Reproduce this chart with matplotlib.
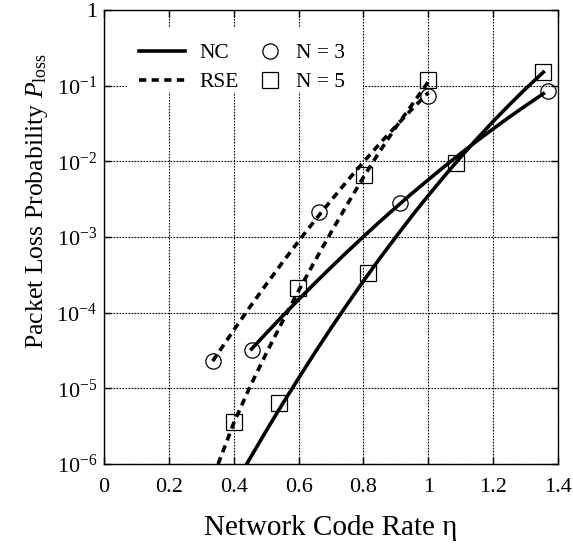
#!/usr/bin/env python3
"""Packet loss probability vs. network code rate, NC vs RSE for N = 3 and N = 5."""

import matplotlib
matplotlib.use('Agg')
import matplotlib.pyplot as plt
from matplotlib.lines import Line2D
from matplotlib.patches import Rectangle
from matplotlib.ticker import FixedLocator, FixedFormatter, NullLocator

plt.rcParams['font.family'] = ['Liberation Serif', 'DejaVu Serif']
plt.rcParams['mathtext.fontset'] = 'custom'
plt.rcParams['mathtext.rm'] = 'Liberation Serif'
plt.rcParams['mathtext.it'] = 'Liberation Serif:italic'

# analytical curves (lines)
rse3_x = [0.335, 0.40, 0.45, 0.50, 0.55, 0.60, 0.65, 0.70, 0.75, 0.80, 0.85, 0.90, 0.95, 1.0]
rse3_y = [2.29e-5, 5.87e-5, 1.19e-4, 2.36e-4, 4.59e-4, 8.79e-4, 1.65e-3, 3.04e-3,
          5.50e-3, 9.77e-3, 1.71e-2, 2.92e-2, 4.91e-2, 8.09e-2]
rse5_x = [0.352, 0.40, 0.45, 0.50, 0.55, 0.60, 0.65, 0.70, 0.75, 0.80, 0.85, 0.90, 0.95, 1.0]
rse5_y = [1e-6, 3.47e-6, 1.05e-5, 2.88e-5, 7.59e-5, 1.95e-4, 4.79e-4, 1.15e-3,
          2.69e-3, 6.17e-3, 1.35e-2, 2.82e-2, 5.62e-2, 0.112]
nc3_x = [0.455, 0.50, 0.55, 0.60, 0.65, 0.70, 0.75, 0.80, 0.85, 0.90, 0.95, 1.0,
         1.05, 1.10, 1.15, 1.20, 1.25, 1.30, 1.355]
nc3_y = [3.31e-5, 5.33e-5, 8.97e-5, 1.49e-4, 2.45e-4, 3.97e-4, 6.38e-4, 1.01e-3,
         1.59e-3, 2.46e-3, 3.78e-3, 5.71e-3, 8.57e-3, 1.27e-2, 1.86e-2, 2.69e-2,
         3.85e-2, 5.43e-2, 7.85e-2]
nc5_x = [0.44, 0.50, 0.55, 0.60, 0.65, 0.70, 0.75, 0.80, 0.85, 0.90, 0.95, 1.0,
         1.05, 1.10, 1.15, 1.20, 1.25, 1.30, 1.355]
nc5_y = [1.0e-6, 2.74e-6, 6.18e-6, 1.36e-5, 2.95e-5, 6.25e-5, 1.29e-4, 2.62e-4,
         5.19e-4, 1.00e-3, 1.91e-3, 3.53e-3, 6.41e-3, 1.14e-2, 1.98e-2, 3.37e-2,
         5.58e-2, 9.10e-2, 0.151]

# simulation points (markers)
rse3_px = [0.335, 0.664, 1.0]
rse3_py = [2.3e-5, 2.15e-3, 7.2e-2]
rse5_px = [0.401, 0.598, 0.802, 1.0]
rse5_py = [3.6e-6, 2.1e-4, 6.6e-3, 0.119]
nc3_px = [0.455, 0.913, 1.368]
nc3_py = [3.2e-5, 2.8e-3, 8.6e-2]
nc5_px = [0.541, 0.813, 1.085, 1.355]
nc5_py = [6.4e-6, 3.3e-4, 9.4e-3, 0.153]

x_ticks = [0, 0.2, 0.4, 0.6, 0.8, 1, 1.2, 1.4]
x_labels = ['0', '0.2', '0.4', '0.6', '0.8', '1', '1.2', '1.4']
y_ticks = [1e-6, 1e-5, 1e-4, 1e-3, 1e-2, 1e-1, 1]
y_labels = [r'$10^{-6}$', r'$10^{-5}$', r'$10^{-4}$', r'$10^{-3}$',
            r'$10^{-2}$', r'$10^{-1}$', '1']

fig = plt.figure(figsize=(5.73, 5.44), dpi=100)
ax = fig.add_axes([0.1815, 0.147, 0.7923, 0.8346])

dash = (0, (2.0, 1.5))
lw = 2.6
ax.plot(rse3_x, rse3_y, color='black', lw=lw, linestyle=dash)
ax.plot(rse5_x, rse5_y, color='black', lw=lw, linestyle=dash)
ax.plot(nc3_x, nc3_y, color='black', lw=lw)
ax.plot(nc5_x, nc5_y, color='black', lw=lw)

mk = dict(linestyle='none', markersize=11, markerfacecolor='none',
          markeredgecolor='black', markeredgewidth=0.9)
ax.plot(rse3_px, rse3_py, marker='o', **mk)
ax.plot(nc3_px, nc3_py, marker='o', **mk)
ax.plot(rse5_px, rse5_py, marker='s', **mk)
ax.plot(nc5_px, nc5_py, marker='s', **mk)

ax.set_yscale('log')
ax.set_xlim(0, 1.4)
ax.set_ylim(1e-6, 1)
ax.xaxis.set_major_locator(FixedLocator(x_ticks))
ax.xaxis.set_major_formatter(FixedFormatter(x_labels))
ax.yaxis.set_major_locator(FixedLocator(y_ticks))
ax.yaxis.set_major_formatter(FixedFormatter(y_labels))
ax.xaxis.set_minor_locator(NullLocator())
ax.yaxis.set_minor_locator(NullLocator())

ax.tick_params(which='major', direction='in', top=True, right=True,
               length=5, width=1, labelsize=16)
ax.tick_params(axis='x', pad=10)
ax.tick_params(axis='y', pad=5)
for s in ax.spines.values():
    s.set_linewidth(1.0)

ax.grid(True, color='black', linestyle=(0, (1.5, 1.2)), linewidth=0.8)
ax.set_axisbelow(True)

ax.set_xlabel('Network Code Rate η', fontsize=21, labelpad=13)
ax.set_ylabel(r'Packet Loss Probability $P_{\mathrm{loss}}$', fontsize=18.5)
ax.yaxis.set_label_coords(-0.12, 0.58)

# white patch behind the legend block, hides the grid there
ax.add_patch(Rectangle((0.05, 0.82), 0.52, 0.14, transform=ax.transAxes,
                       facecolor='white', edgecolor='none', zorder=1))

line_handles = [Line2D([], [], color='black', lw=lw),
                Line2D([], [], color='black', lw=lw, linestyle=dash)]
mark_handles = [Line2D([], [], marker='o', **mk),
                Line2D([], [], marker='s', **mk)]
leg_kw = dict(loc='upper left', fontsize=15.5, frameon=False,
              handletextpad=0.7, labelspacing=0.42, borderpad=0.3)
leg1 = ax.legend(line_handles, ['NC', 'RSE'], bbox_to_anchor=(0.04, 0.965),
                 handlelength=2.1, **leg_kw)
ax.add_artist(leg1)
ax.legend(mark_handles, ['N = 3', 'N = 5'], bbox_to_anchor=(0.305, 0.965),
          handlelength=1.0, **leg_kw)

fig.savefig('out.png', dpi=100)
